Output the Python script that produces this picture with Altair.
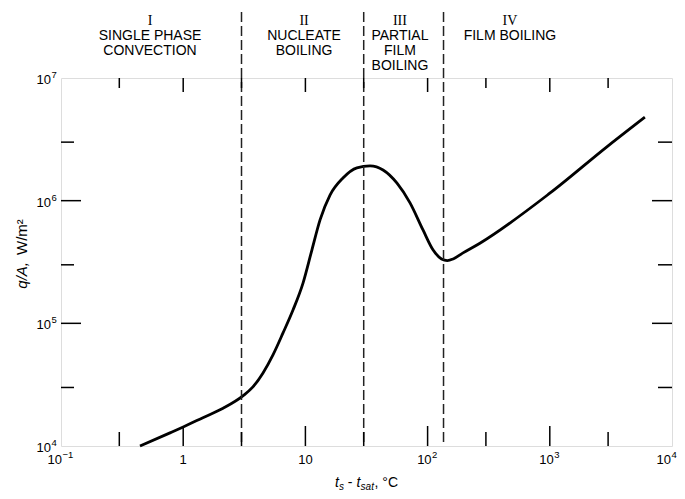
import altair as alt
import pandas as pd

# ---------------- data ----------------
curve_x = [0.443, 0.78, 1.0, 1.45, 2.12, 3.08, 3.72, 4.5, 5.43, 6.56, 7.93, 9.56,
           11.3, 13.2, 15.9, 20.3, 26.4, 33.8, 43.2, 56.2, 71.8, 91.7, 111, 130,
           145, 162, 195, 268, 1000, 3000, 6000]
curve_y = [1.0e4, 1.28e4, 1.43e4, 1.70e4, 2.03e4, 2.56e4, 3.03e4, 3.94e4, 5.53e4,
           8.35e4, 1.29e5, 2.13e5, 3.96e5, 7.0e5, 1.11e6, 1.53e6, 1.85e6, 1.92e6,
           1.78e6, 1.39e6, 9.6e5, 5.77e5, 3.96e5, 3.35e5, 3.25e5, 3.35e5, 3.75e5,
           4.5e5, 1.15e6, 2.8e6, 4.8e6]

boundaries = [3, 30, 135]

region_numerals = ["I", "II", "III", "IV"]
region_names = ["SINGLE PHASE\nCONVECTION", "NUCLEATE\nBOILING",
                "PARTIAL\nFILM\nBOILING", "FILM BOILING"]
region_centers = [0.535, 9.75, 59.4, 472]

x_major = [1, 10, 100, 1000]
x_minor = [0.3, 3, 30, 300, 3000]
y_major = [1e5, 1e6]
y_minor = [3e4, 3e5, 3e6]

# tick labels: plain ones, and power-of-ten ones split into base and exponent
x_plain_values = [1, 10]
x_plain_labels = ["1", "10"]
x_pow_values = [100, 1000]
x_pow_exps = ["2", "3"]
x_edge_values = [10000]
x_edge_exps = ["4"]
x_neg_values = [0.1]
x_neg_exps = ["\u22121"]
y_pow_values = [1e4, 1e5, 1e6, 1e7]
y_pow_exps = ["4", "5", "6", "7"]

# ---------------- chart ----------------
W, H = 611, 368
FONT = "Liberation Sans"
LFS = 13      # label font size
EFS = 9.5     # exponent font size
xs = alt.Scale(type="log", domain=[0.1, 10000])
ys = alt.Scale(type="log", domain=[1e4, 1e7])


def X(field):
    return alt.X(field, scale=xs, axis=None, title=None)


def Y(field):
    return alt.Y(field, scale=ys, axis=None, title=None)


curve_df = pd.DataFrame({"x": curve_x, "y": curve_y})

base = alt.Chart(curve_df).mark_line(
    interpolate="monotone", color="black", strokeWidth=2.8
).encode(x=X("x:Q"), y=Y("y:Q"))

bnd = alt.Chart(pd.DataFrame({"b": boundaries})).mark_rule(
    color="#222222", strokeWidth=1.5, strokeDash=[10, 4], clip=False
).encode(x=X("b:Q"), y=alt.value(-66), y2=alt.value(H))


def xticks(vals, y0, y1):
    return alt.Chart(pd.DataFrame({"v": vals})).mark_rule(color="black", strokeWidth=1.5).encode(
        x=X("v:Q"), y=alt.value(y0), y2=alt.value(y1))


def yticks(vals, x0, x1):
    return alt.Chart(pd.DataFrame({"v": vals})).mark_rule(color="black", strokeWidth=1.5).encode(
        y=Y("v:Q"), x=alt.value(x0), x2=alt.value(x1))


tick_layers = [
    xticks(x_major, H, H - 20), xticks(x_minor, H, H - 14),
    xticks(x_major, 0, 14), xticks(x_minor, 0, 10),
    yticks(y_major, 0, 20), yticks(y_minor, 0, 13),
    yticks(y_major, W, W - 20), yticks(y_minor, W, W - 14),
]


# ---- tick labels ----
def xlab(vals, texts, size, align, dx, y):
    df = pd.DataFrame({"v": vals, "t": texts})
    return alt.Chart(df).mark_text(font=FONT, fontSize=size, align=align, baseline="top",
                                   dx=dx, color="black").encode(
        x=X("v:Q"), y=alt.value(y), text="t:N")


def ylab(vals, texts, size, align, x, dy):
    df = pd.DataFrame({"v": vals, "t": texts})
    return alt.Chart(df).mark_text(font=FONT, fontSize=size, align=align, baseline="middle",
                                   dy=dy, color="black").encode(
        y=Y("v:Q"), x=alt.value(x), text="t:N")


XLY = H + 8
label_layers = [
    xlab(x_plain_values, x_plain_labels, LFS, "center", 0, XLY),
    xlab(x_pow_values, ["10"] * len(x_pow_values), LFS, "right", 4, XLY),
    xlab(x_pow_values, x_pow_exps, EFS, "left", 4.5, XLY - 4),
    xlab(x_edge_values, ["10"] * len(x_edge_values), LFS, "right", -1, XLY),
    xlab(x_edge_values, x_edge_exps, EFS, "left", -0.5, XLY - 4),
    xlab(x_neg_values, ["10"] * len(x_neg_values), LFS, "right", 1, XLY),
    xlab(x_neg_values, x_neg_exps, EFS, "left", 1.5, XLY - 4),
    ylab(y_pow_values, ["10"] * len(y_pow_values), LFS, "right", -10, 2),
    ylab(y_pow_values, y_pow_exps, EFS, "left", -9.5, -3),
]

regions_df = pd.DataFrame({"c": region_centers, "num": region_numerals, "name": region_names})

numerals = alt.Chart(regions_df).mark_text(
    font="Liberation Serif", fontSize=14, color="black", baseline="middle", align="center"
).encode(x=X("c:Q"), y=alt.value(-57), text="num:N")

names = alt.Chart(regions_df).mark_text(
    font=FONT, fontSize=14, color="black", baseline="top", align="center",
    lineBreak="\n", lineHeight=14.8
).encode(x=X("c:Q"), y=alt.value(-49), text="name:N")

# axis titles composed from pieces (italic letters, subscripts)
X0 = 274
XB = 409
xt = [
    ("t", 14, "italic", X0, XB),
    ("s", 10, "italic", X0 + 4.1, XB + 3),
    ("-", 14, "normal", X0 + 12.8, XB),
    ("t", 14, "italic", X0 + 21.5, XB),
    ("sat", 10, "italic", X0 + 25.6, XB + 3),
    (", \u00b0C", 14, "normal", X0 + 39.5, XB),
]
title_layers = []
for txt, fs, st, px, py in xt:
    title_layers.append(
        alt.Chart(pd.DataFrame({"t": [txt]})).mark_text(
            font=FONT, fontSize=fs, fontStyle=st, align="left", baseline="alphabetic", color="black"
        ).encode(x=alt.value(px), y=alt.value(py), text="t:N")
    )

YX = -39
title_layers.append(
    alt.Chart(pd.DataFrame({"t": ["q/A,"]})).mark_text(
        font=FONT, fontSize=15, fontStyle="italic", align="right", baseline="middle",
        angle=270, color="black"
    ).encode(x=alt.value(YX), y=alt.value(184), text="t:N"))
title_layers.append(
    alt.Chart(pd.DataFrame({"t": ["W/m\u00b2"]})).mark_text(
        font=FONT, fontSize=15, align="left", baseline="middle",
        angle=270, color="black"
    ).encode(x=alt.value(YX), y=alt.value(177), text="t:N"))

chart = alt.layer(
    base, bnd, *tick_layers, *label_layers, numerals, names, *title_layers
).properties(
    width=W, height=H,
    autosize=alt.AutoSizeParams(type="none"),
    padding={"left": 53, "top": 70, "right": 5, "bottom": 45},
).configure_view(
    stroke="black", strokeWidth=1.6
).configure(background="white")

chart.save("out.html", embed_options={"renderer": "svg", "actions": False})
